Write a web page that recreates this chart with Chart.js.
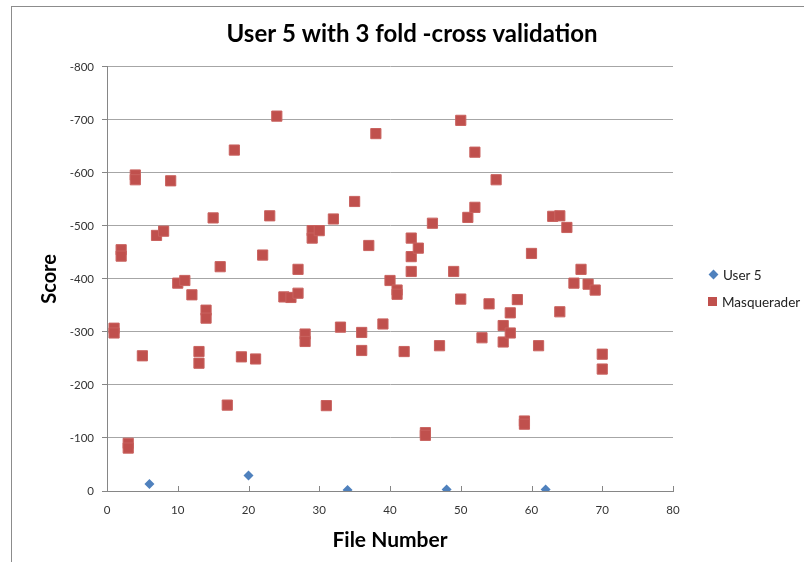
<!DOCTYPE html>
<html>
<head>
<meta charset="utf-8">
<script src="https://cdn.jsdelivr.net/npm/chart.js@4"></script>
<style>
  body { margin: 0; background: #fff; }
  #wrap { position: relative; width: 804px; height: 562px; }
  #frame { position: absolute; left: 11px; top: 6px; right: 0; bottom: 0; border-left: 1px solid #8c8c8c; border-top: 1px solid #8c8c8c; pointer-events: none; }
  #legend { position: absolute; left: 707px; top: 261px; font: 13.5px Lato, sans-serif; color: #222; }
  #legend div { height: 27px; display: flex; align-items: center; }
  #legend span.mk { display: inline-block; margin-right: 4px; }
</style>
</head>
<body>
<div id="wrap">
  <canvas id="chart"></canvas>
  <div id="frame"></div>
  <div id="legend"></div>
</div>
<script>
const chartTitle = 'User 5 with 3 fold -cross validation';
const xTitle = 'File Number';
const yTitle = 'Score';

const userLabel = 'User 5';
const userX = [6, 20, 34, 48, 62];
const userY = [-13, -29, -2, -3, -3];

const masqLabel = 'Masquerader';
const masqX = [1, 1, 2, 2, 3, 3, 4, 4, 5, 7, 8, 9, 10, 11, 12, 13, 13, 14, 14, 15,
    16, 17, 18, 19, 21, 22, 23, 24, 25, 26, 27, 27, 28, 28, 29, 29, 30, 31, 32, 33,
    35, 36, 36, 37, 38, 39, 40, 41, 41, 42, 43, 43, 43, 44, 45, 45, 46, 47, 49, 50,
    50, 51, 52, 52, 53, 54, 55, 56, 56, 57, 57, 58, 59, 59, 60, 61, 63, 64, 64, 65,
    66, 67, 68, 69, 70, 70];
const masqY = [-307, -298, -455, -443, -90, -81, -596, -587, -255, -482, -490, -585, -392, -397, -370, -263, -241, -341, -326, -515,
    -423, -162, -643, -253, -249, -445, -519, -707, -366, -365, -373, -418, -296, -282, -491, -477, -491, -161, -513, -309,
    -546, -299, -265, -463, -674, -315, -397, -379, -371, -263, -477, -442, -414, -458, -110, -105, -505, -274, -414, -699,
    -362, -516, -535, -639, -289, -353, -587, -312, -281, -336, -298, -361, -132, -126, -448, -274, -518, -519, -338, -497,
    -392, -418, -390, -379, -258, -230];

const toPoints = (xs, ys) => xs.map((x, i) => ({ x: x, y: ys[i] }));

const axisColor = '#868686';
const gridColor = '#a6a6a6';

// x axis ticks point up into the plot, like the original
const innerTicks = {
    id: 'innerTicks',
    afterDraw(chart) {
        const xs = chart.scales.x;
        const ctx = chart.ctx;
        ctx.save();
        ctx.strokeStyle = axisColor;
        ctx.lineWidth = 1;
        xs.ticks.forEach((t) => {
            const px = Math.round(xs.getPixelForValue(t.value)) + 0.5;
            ctx.beginPath();
            ctx.moveTo(px, xs.top);
            ctx.lineTo(px, xs.top - 5);
            ctx.stroke();
        });
        ctx.restore();
    },
};

const chart = new Chart(document.getElementById('chart'), {
    type: 'scatter',
    data: {
        datasets: [{
            label: userLabel,
            data: toPoints(userX, userY),
            pointStyle: 'rectRot',
            radius: 5,
            backgroundColor: '#4f81bd',
            borderColor: '#4f81bd',
            borderWidth: 0,
        }, {
            label: masqLabel,
            data: toPoints(masqX, masqY),
            pointStyle: 'rect',
            radius: 7.2,
            backgroundColor: '#c0504d',
            borderColor: '#c9625f',
            borderWidth: 1,
        }],
    },
    options: {
        responsive: true,
        maintainAspectRatio: false,
        animation: false,
        layout: { padding: { left: 20, top: 10, right: 0, bottom: 0 } },
        plugins: {
            legend: { display: false },
            tooltip: { enabled: false },
            title: {
                display: true,
                text: chartTitle,
                color: '#000',
                font: { family: 'Lato', size: 24, weight: 'bold' },
                padding: { top: 10, bottom: 18 },
            },
        },
        scales: {
            x: {
                type: 'linear',
                min: 0,
                max: 80,
                ticks: { stepSize: 10, color: '#333', font: { family: 'Lato', size: 11.5 }, padding: 12 },
                grid: { drawOnChartArea: false, drawTicks: false },
                border: { color: axisColor },
                title: {
                    display: true,
                    text: xTitle,
                    color: '#000',
                    font: { family: 'Lato', size: 21, weight: 'bold' },
                    padding: { top: 0, bottom: 9 },
                },
                afterFit: (s) => { s.height = 71; },
            },
            y: {
                type: 'linear',
                reverse: true,
                min: -800,
                max: 0,
                ticks: { stepSize: 100, color: '#333', font: { family: 'Lato', size: 11.5 }, padding: 8 },
                grid: { color: gridColor, tickColor: axisColor, tickLength: 5 },
                border: { color: axisColor },
                title: {
                    display: true,
                    text: yTitle,
                    color: '#000',
                    font: { family: 'Lato', size: 20, weight: 'bold' },
                    padding: { top: 18, bottom: 0 },
                },
                afterFit: (s) => { s.width = 87; },
            },
            // empty right axis only reserves room for the legend
            side: {
                type: 'linear',
                position: 'right',
                display: true,
                ticks: { display: false },
                grid: { display: false },
                border: { display: false },
                afterFit: (s) => { s.width = 131; },
            },
        },
    },
    plugins: [innerTicks],
});

const legend = document.getElementById('legend');
chart.data.datasets.forEach((ds) => {
    const row = document.createElement('div');
    const mk = document.createElement('span');
    mk.className = 'mk';
    if (ds.pointStyle === 'rectRot') {
        mk.style.cssText = 'width:7px;height:7px;transform:rotate(45deg);margin:0 6px 0 3px;background:' + ds.backgroundColor;
    } else {
        mk.style.cssText = 'width:9px;height:9px;margin:0 5px 0 1px;background:' + ds.backgroundColor;
    }
    row.appendChild(mk);
    row.appendChild(document.createTextNode(ds.label));
    legend.appendChild(row);
});
</script>
</body>
</html>
